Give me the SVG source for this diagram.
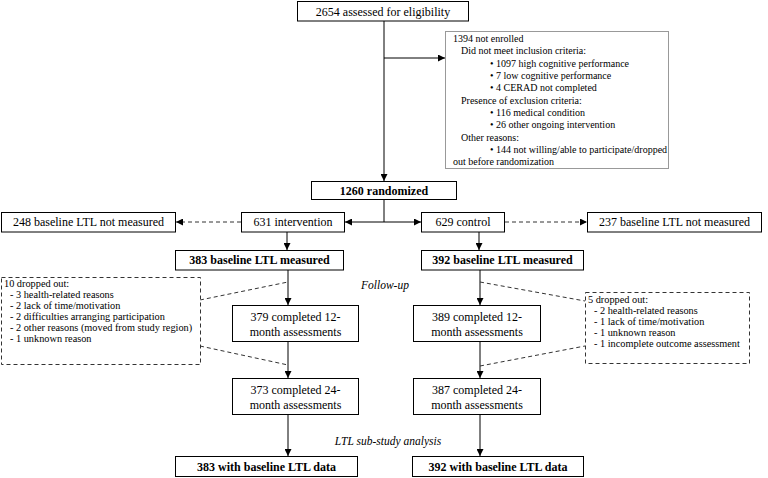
<svg xmlns="http://www.w3.org/2000/svg" width="768" height="478" viewBox="0 0 768 478" font-family="'Liberation Serif', 'Times New Roman', 'DejaVu Serif', serif">
<defs>
<marker id="ah" viewBox="0 0 10 10" refX="10" refY="5" markerWidth="7" markerHeight="7" markerUnits="userSpaceOnUse" orient="auto"><path d="M0,0 L10,5 L0,10 z" fill="#000"/></marker>
</defs>
<style>
text{font-family:'Liberation Serif','Times New Roman',serif;fill:#000}
.box{fill:#fff;stroke:#000;stroke-width:1}
.gbox{fill:#fff;stroke:#999;stroke-width:1}
.dbox{fill:#fff;stroke:#333;stroke-width:1;stroke-dasharray:4,3}
.t{font-size:12px;text-anchor:middle}
.b{font-weight:bold}
.s{font-size:10px}
.n{font-size:10.3px}
.i{font-size:11.5px;font-style:italic;text-anchor:middle}
.ln{fill:none;stroke:#000;stroke-width:1}
.dl{fill:none;stroke:#333;stroke-width:1;stroke-dasharray:4,3}
</style>
<g id="connectors">
<path class="ln" d="M384,21 V181" marker-end="url(#ah)"/>
<path class="ln" d="M384,58 H445" marker-end="url(#ah)"/>
<path class="ln" d="M384,199 V222"/>
<path class="ln" d="M384,222 H345" marker-end="url(#ah)"/>
<path class="ln" d="M384,222 H421" marker-end="url(#ah)"/>
<path class="dl" d="M241,222 H176" marker-end="url(#ah)"/>
<path class="dl" d="M505,222 H587" marker-end="url(#ah)"/>
<path class="ln" d="M287,232 V250" marker-end="url(#ah)"/>
<path class="ln" d="M479,232 V250" marker-end="url(#ah)"/>
<path class="ln" d="M288,270 V305" marker-end="url(#ah)"/>
<path class="ln" d="M288,342 V378" marker-end="url(#ah)"/>
<path class="ln" d="M288,415 V456" marker-end="url(#ah)"/>
<path class="ln" d="M480,270 V305" marker-end="url(#ah)"/>
<path class="ln" d="M480,342 V378" marker-end="url(#ah)"/>
<path class="ln" d="M480,415 V456" marker-end="url(#ah)"/>
<path class="dl" d="M200,300 L288,282"/>
<path class="dl" d="M200,346 L288,365"/>
<path class="dl" d="M480,282 L585,301"/>
<path class="dl" d="M480,366 L585,346"/>
</g>
<g id="n-assessed"><rect class="box" x="297.5" y="1.5" width="171" height="19.5"/><text class="t" x="383" y="15.5">2654 assessed for eligibility</text></g>
<g id="n-notenrolled"><rect class="gbox" x="445.5" y="31.5" width="223" height="137"/>
<text class="s" x="453" y="42">1394 not enrolled</text>
<text class="s" x="461" y="54">Did not meet inclusion criteria:</text>
<text class="s" x="490" y="67">• 1097 high cognitive performance</text>
<text class="s" x="490" y="79">• 7 low cognitive performance</text>
<text class="s" x="490" y="91">• 4 CERAD not completed</text>
<text class="s" x="461" y="104">Presence of exclusion criteria:</text>
<text class="s" x="490" y="116">• 116 medical condition</text>
<text class="s" x="490" y="128">• 26 other ongoing intervention</text>
<text class="s" x="461" y="141">Other reasons:</text>
<text class="s" x="490" y="153">• 144 not willing/able to participate/dropped</text>
<text class="s" x="453" y="165">out before randomization</text>
</g>
<g id="n-randomized"><rect class="box" x="311.5" y="181.5" width="145" height="18"/><text class="t b" x="384" y="194.5">1260 randomized</text></g>
<g id="n-248"><rect class="box" x="1.5" y="212.5" width="174" height="19.5"/><text class="t" x="88.5" y="226">248 baseline LTL not measured</text></g>
<g id="n-intervention"><rect class="box" x="241.5" y="212.5" width="103" height="19.5"/><text class="t" x="293" y="226">631 intervention</text></g>
<g id="n-control"><rect class="box" x="421.5" y="212.5" width="83" height="19.5"/><text class="t" x="463" y="226">629 control</text></g>
<g id="n-237"><rect class="box" x="587.5" y="212.5" width="174" height="19.5"/><text class="t" x="674.5" y="226">237 baseline LTL not measured</text></g>
<g id="n-383b"><rect class="box" x="175.5" y="250.5" width="168" height="19.5"/><text class="t b" x="259.5" y="264">383 baseline LTL measured</text></g>
<g id="n-392b"><rect class="box" x="421.5" y="250.5" width="162" height="19.5"/><text class="t b" x="502.5" y="264">392 baseline LTL measured</text></g>
<g id="n-drop10"><rect class="dbox" x="1.5" y="277.5" width="199" height="87"/>
<text class="n" x="4" y="287">10 dropped out:</text>
<text class="n" x="10" y="298">- 3 health-related reasons</text>
<text class="n" x="10" y="309">- 2 lack of time/motivation</text>
<text class="n" x="10" y="320">- 2 difficulties arranging participation</text>
<text class="n" x="10" y="331">- 2 other reasons (moved from study region)</text>
<text class="n" x="10" y="342">- 1 unknown reason</text>
</g>
<g id="n-drop5"><rect class="dbox" x="585.5" y="292.5" width="164" height="71"/>
<text class="n" x="588" y="303">5 dropped out:</text>
<text class="n" x="594" y="314">- 2 health-related reasons</text>
<text class="n" x="594" y="325">- 1 lack of time/motivation</text>
<text class="n" x="594" y="336">- 1 unknown reason</text>
<text class="n" x="594" y="347">- 1 incomplete outcome assessment</text>
</g>
<g id="n-379"><rect class="box" x="232.5" y="305.5" width="126" height="36"/><text class="t" x="295.5" y="321">379 completed 12-</text><text class="t" x="295.5" y="336">month assessments</text></g>
<g id="n-389"><rect class="box" x="413.5" y="305.5" width="127" height="36"/><text class="t" x="477" y="321">389 completed 12-</text><text class="t" x="477" y="336">month assessments</text></g>
<g id="n-373"><rect class="box" x="232.5" y="378.5" width="126" height="36"/><text class="t" x="295.5" y="394">373 completed 24-</text><text class="t" x="295.5" y="409">month assessments</text></g>
<g id="n-387"><rect class="box" x="413.5" y="378.5" width="127" height="36"/><text class="t" x="477" y="394">387 completed 24-</text><text class="t" x="477" y="409">month assessments</text></g>
<g id="n-383d"><rect class="box" x="175.5" y="456.5" width="182" height="20"/><text class="t b" x="266.5" y="470.5">383 with baseline LTL data</text></g>
<g id="n-392d"><rect class="box" x="412.5" y="456.5" width="171" height="20"/><text class="t b" x="498" y="470.5">392 with baseline LTL data</text></g>
<text class="i" x="385" y="289">Follow-up</text>
<text class="i" x="388" y="445">LTL sub-study analysis</text>
</svg>
